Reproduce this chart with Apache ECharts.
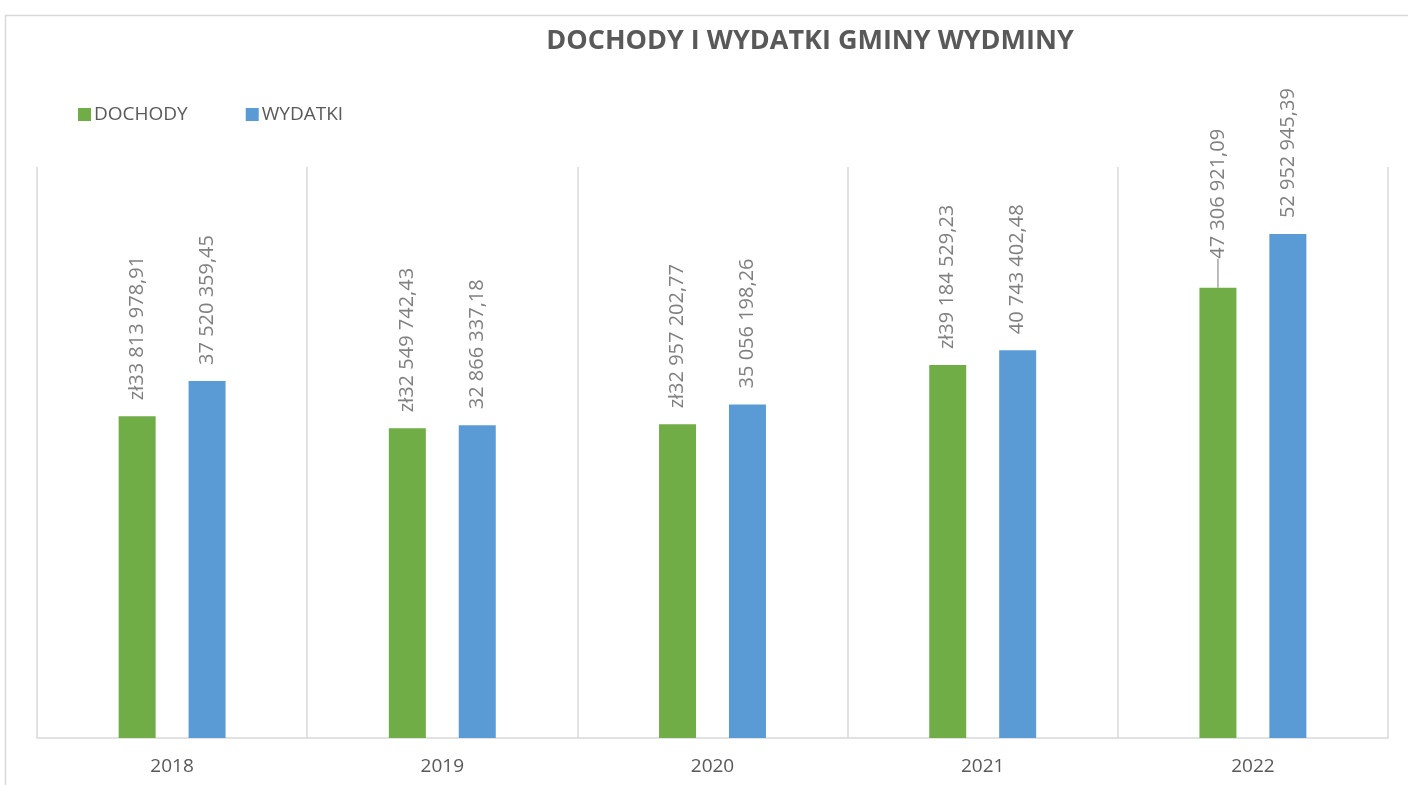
<!DOCTYPE html>
<html lang="pl">
<head>
    <meta charset="UTF-8">
    <title>Dochody i wydatki gminy Wydminy</title>
    <script src="https://cdn.jsdelivr.net/npm/echarts@6/dist/echarts.min.js"></script>
    <style>
        html, body { margin: 0; padding: 0; background: #fff; }
    </style>
</head>
<body>
<div id="box1" style="width: 1408px;height: 785px"></div>
<script>
    var years = ['2018', '2019', '2020', '2021', '2022'];
    var dochody = [33813978.91, 32549742.43, 32957202.77, 39184529.23, 47306921.09];
    var wydatki = [37520359.45, 32866337.18, 35056198.26, 40743402.48, 52952945.39];
    // etykiety jak w oryginale (z "zł" przy dochodach, oprócz 2022)
    var dochodyLabels = ['zł33 813 978,91', 'zł32 549 742,43', 'zł32 957 202,77', 'zł39 184 529,23', '47 306 921,09'];
    var wydatkiLabels = ['37 520 359,45', '32 866 337,18', '35 056 198,26', '40 743 402,48', '52 952 945,39'];

    var mychart = echarts.init(document.getElementById("box1"));

    var labelFont = {
        show: true,
        position: 'top',
        rotate: 90,
        align: 'left',
        verticalAlign: 'middle',
        distance: 16,
        color: '#808080',
        fontFamily: 'Open Sans',
        fontSize: 20
    };

    var dData = dochody.map(function (v, i) {
        var item = {value: v};
        if (i === 4) {
            item.label = {distance: 29};
            item.labelLine = {show: true, lineStyle: {color: '#a6a6a6', width: 1.5}};
        }
        return item;
    });

    var option = {
        animation: false,
        graphic: [{
            type: 'rect',
            left: 3, top: 13,
            shape: {width: 1500, height: 900},
            style: {fill: 'none', stroke: '#d9d9d9', lineWidth: 1.5},
            silent: true
        }],
        title: {
            text: 'DOCHODY I WYDATKI GMINY WYDMINY',
            left: 805,
            textAlign: 'center',
            top: 23,
            textStyle: {
                color: '#595959',
                fontFamily: 'Open Sans',
                fontWeight: 'bold',
                fontSize: 27
            }
        },
        legend: {
            left: 73,
            top: 100,
            itemWidth: 13,
            itemHeight: 13,
            itemGap: 58,
            icon: 'rect',
            textStyle: {color: '#595959', fontFamily: 'Open Sans', fontSize: 19, padding: [0, 0, 0, -2]},
            data: ['DOCHODY', 'WYDATKI']
        },
        grid: {left: 37, right: 20, top: 167, bottom: 47},
        xAxis: {
            type: 'category',
            data: years,
            axisLine: {lineStyle: {color: '#d9d9d9', width: 1.5}},
            axisTick: {show: false},
            splitLine: {show: true, lineStyle: {color: '#d9d9d9', width: 1.5}},
            axisLabel: {color: '#595959', fontFamily: 'Open Sans', fontSize: 19, margin: 19}
        },
        yAxis: {
            type: 'value',
            min: 0,
            max: 60000000,
            show: false,
            splitLine: {show: false}
        },
        series: [{
            name: 'DOCHODY',
            type: 'bar',
            data: dData,
            barWidth: 37,
            barGap: '89%',
            itemStyle: {color: '#70AD47'},
            label: Object.assign({}, labelFont, {
                formatter: function (p) { return dochodyLabels[p.dataIndex]; }
            })
        }, {
            name: 'WYDATKI',
            type: 'bar',
            data: wydatki,
            barWidth: 37,
            itemStyle: {color: '#5B9BD5'},
            label: Object.assign({}, labelFont, {
                formatter: function (p) { return wydatkiLabels[p.dataIndex]; }
            })
        }]
    };
    mychart.setOption(option);
</script>
</body>
</html>
